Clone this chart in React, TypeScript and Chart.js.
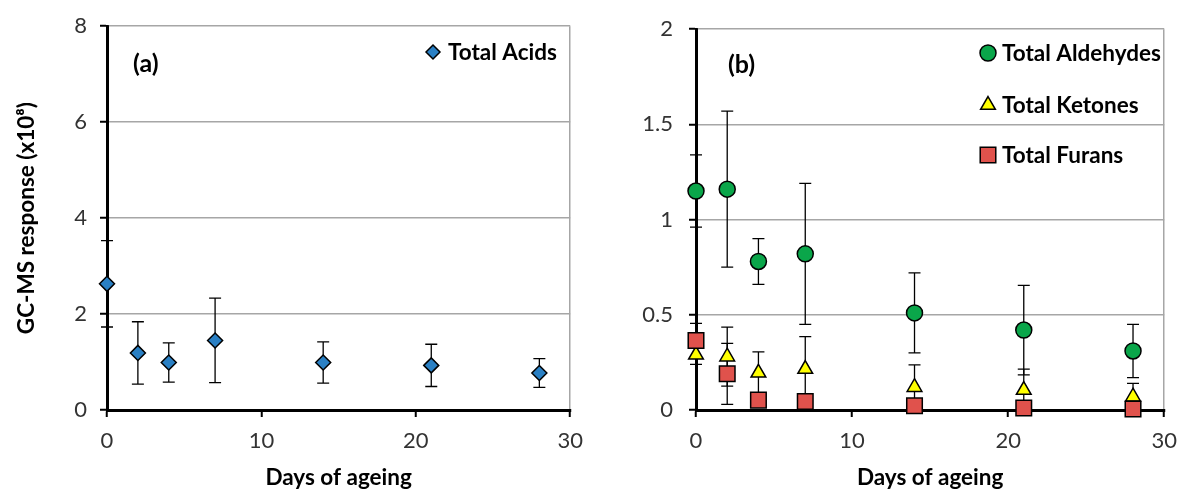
import React, { useEffect, useRef } from 'react';
import { Chart, registerables } from 'chart.js';
Chart.register(...registerables);

// ---------- data ----------
const days = [0, 2, 4, 7, 14, 21, 28];
const acids = [2.63, 1.19, 0.99, 1.45, 0.99, 0.93, 0.77];
const acidsErr = [0.9, 0.65, 0.41, 0.88, 0.43, 0.44, 0.3];
const aldehydes = [1.15, 1.16, 0.78, 0.82, 0.51, 0.42, 0.31];
const aldehydesErr = [0.19, 0.41, 0.12, 0.37, 0.21, 0.235, 0.14];
const ketones = [0.29, 0.28, 0.195, 0.215, 0.12, 0.105, 0.07];
const ketonesErr = [0.05, 0.155, 0.11, 0.17, 0.117, 0.11, 0.07];
const furans = [0.365, 0.19, 0.052, 0.045, 0.022, 0.01, 0.005];
const furansErr = [0.09, 0.16, 0.01, 0.01, 0.01, 0.008, 0.004];
const xTicks = [0, 10, 20, 30];
const yTicksA = [0, 2, 4, 6, 8];
const yTicksB = [0, 0.5, 1, 1.5, 2];

const FONT = 'Lato';
const GRID = '#a6a6a6';
const TICK_COLOR = '#333333';

const pts = (vals: number[]) => vals.map((v, i) => ({ x: days[i], y: v }));

function drawMarker(ctx: CanvasRenderingContext2D, style: string, x: number, y: number, r: number, fill: string) {
  ctx.save();
  ctx.beginPath();
  if (style === 'circle') {
    ctx.arc(x, y, r, 0, Math.PI * 2);
  } else if (style === 'rectRot') {
    ctx.moveTo(x - r, y); ctx.lineTo(x, y - r); ctx.lineTo(x + r, y); ctx.lineTo(x, y + r);
  } else if (style === 'triangle') {
    const a = -Math.PI / 2;
    for (let k = 0; k < 3; k++) {
      const ang = a + (k * 2 * Math.PI) / 3;
      const px = x + Math.cos(ang) * r, py = y + Math.sin(ang) * r;
      if (k === 0) ctx.moveTo(px, py); else ctx.lineTo(px, py);
    }
  } else {
    const s = Math.SQRT1_2 * r;
    ctx.rect(x - s, y - s, 2 * s, 2 * s);
  }
  ctx.closePath();
  ctx.fillStyle = fill;
  ctx.fill();
  ctx.lineWidth = 1.5;
  ctx.strokeStyle = '#000';
  ctx.stroke();
  ctx.restore();
}

const errorBarPlugin = {
  id: 'errorBars',
  beforeDatasetsDraw(chart: any) {
    const ctx = chart.ctx;
    const yScale = chart.scales.y;
    const xScale = chart.scales.x;
    const ca = chart.chartArea;
    ctx.save();
    // axis lines (black, crisp 3px), drawn beneath the markers
    ctx.strokeStyle = '#000';
    ctx.lineWidth = 3;
    ctx.beginPath();
    const x0 = Math.round(xScale.getPixelForValue(0)) + 0.5;
    const y0 = Math.round(yScale.getPixelForValue(0)) + 0.5;
    ctx.moveTo(x0, ca.top - 1);
    ctx.lineTo(x0, y0);
    ctx.lineTo(ca.right + 1, y0);
    ctx.stroke();
    ctx.lineWidth = 1.3;
    chart.data.datasets.forEach((ds: any, i: number) => {
      const errs = ds.errors;
      if (!errs) return;
      const meta = chart.getDatasetMeta(i);
      meta.data.forEach((pt: any, j: number) => {
        const v = ds.data[j].y;
        const e = errs[j];
        const x = pt.x;
        const t = yScale.getPixelForValue(v + e);
        const b = yScale.getPixelForValue(v - e);
        ctx.beginPath();
        ctx.moveTo(x, t); ctx.lineTo(x, b);
        ctx.moveTo(x - 6, t); ctx.lineTo(x + 6, t);
        ctx.moveTo(x - 6, b); ctx.lineTo(x + 6, b);
        ctx.stroke();
      });
    });
    ctx.restore();
  },
};

const decorPlugin = {
  id: 'decor',
  afterDraw(chart: any, _args: any, opts: any) {
    const ctx = chart.ctx;
    ctx.save();
    ctx.fillStyle = '#000';
    ctx.textBaseline = 'middle';
    ctx.textAlign = 'left';
    ctx.font = `bold 25px ${FONT}`;
    ctx.fillText(opts.panel, opts.panelX, opts.panelY);
    (opts.items || []).forEach((it: any) => {
      drawMarker(ctx, it.style, opts.markerX, it.y, it.r, it.color);
      ctx.fillStyle = '#000';
      ctx.font = `bold 22.5px ${FONT}`;
      ctx.fillText(it.label, opts.textX, it.y + 1);
    });
    ctx.restore();
  },
};

function makeOptions(cfg: any) {
  return {
    animation: false,
    responsive: false,
    layout: { padding: { left: 0, right: cfg.padRight, top: 24, bottom: 0 } },
    plugins: {
      legend: { display: false },
      tooltip: { enabled: false },
      decor: cfg.decor,
    },
    scales: {
      x: {
        type: 'linear',
        min: 0,
        max: 30,
        afterBuildTicks: (s: any) => { s.ticks = xTicks.map((v) => ({ value: v })); },
        ticks: { font: { family: FONT, size: 22 }, color: TICK_COLOR, padding: 11 },
        grid: {
          color: (c: any) => (c.tick && c.tick.value === 30 ? GRID : 'rgba(0,0,0,0)'),
          tickColor: '#000',
          tickLength: 7,
          lineWidth: 1.5,
          tickWidth: 2,
        },
        border: { color: '#000', width: 2.5 },
        title: {
          display: true,
          text: 'Days of ageing',
          color: '#000',
          font: { family: FONT, size: 22.5, weight: 'bold' },
          padding: { top: 0, bottom: 0 },
        },
        afterFit: (s: any) => { s.height = 81; },
      },
      y: {
        type: 'linear',
        min: 0,
        max: cfg.yMax,
        afterBuildTicks: (s: any) => { s.ticks = cfg.yTicks.map((v: number) => ({ value: v })); },
        ticks: {
          font: { family: FONT, size: 22 },
          color: TICK_COLOR,
          padding: cfg.yPad,
          callback: (v: any) => String(v),
        },
        grid: {
          color: (c: any) => (c.tick && c.tick.value === 0 ? 'rgba(0,0,0,0)' : GRID),
          tickColor: '#000',
          tickLength: 7,
          lineWidth: 1.5,
          tickWidth: 2,
        },
        border: { color: '#000', width: 2.5 },
        title: cfg.yTitle
          ? {
              display: true,
              text: cfg.yTitle,
              color: '#000',
              font: { family: FONT, size: 22.5, weight: 'bold' },
              padding: { top: 13, bottom: 0 },
            }
          : { display: false },
        afterFit: (s: any) => { s.width = cfg.yWidth; },
      },
    },
  };
}

function ChartCanvas({ config }: { config: any }) {
  const ref = useRef<HTMLCanvasElement>(null);
  useEffect(() => {
    if (!ref.current) return;
    const chart = new Chart(ref.current, config);
    return () => chart.destroy();
  }, [config]);
  return <canvas ref={ref} width={594} height={491} style={{ display: 'block', width: 594, height: 491 }} />;
}

const configA = {
  type: 'scatter',
  data: {
    datasets: [
      {
        label: 'Total Acids',
        data: pts(acids),
        errors: acidsErr,
        pointStyle: 'rectRot',
        pointRadius: 7.5,
        pointBackgroundColor: '#2a80c4',
        pointBorderColor: '#000',
        pointBorderWidth: 1.5,
        clip: false,
      },
    ],
  },
  options: makeOptions({
    padRight: 23,
    yMax: 8,
    yTicks: yTicksA,
    yPad: 13,
    yWidth: 107,
    yTitle: 'GC-MS response (x10⁸)',
    decor: {
      panel: '(a)', panelX: 133, panelY: 64,
      markerX: 433, textX: 448,
      items: [{ label: 'Total Acids', style: 'rectRot', r: 7, color: '#2a80c4', y: 52 }],
    },
  }),
  plugins: [errorBarPlugin, decorPlugin],
};

const configB = {
  type: 'scatter',
  data: {
    datasets: [
      {
        label: 'Total Furans',
        data: pts(furans),
        errors: furansErr,
        pointStyle: 'rect',
        pointRadius: 11,
        pointBackgroundColor: '#e0524c',
        pointBorderColor: '#000',
        pointBorderWidth: 1.5,
        clip: false,
      },
      {
        label: 'Total Ketones',
        data: pts(ketones),
        errors: ketonesErr,
        pointStyle: 'triangle',
        pointRadius: 8.5,
        pointBackgroundColor: '#ffff00',
        pointBorderColor: '#000',
        pointBorderWidth: 1.5,
        clip: false,
      },
      {
        label: 'Total Aldehydes',
        data: pts(aldehydes),
        errors: aldehydesErr,
        pointStyle: 'circle',
        pointRadius: 8,
        pointBackgroundColor: '#0aa64a',
        pointBorderColor: '#000',
        pointBorderWidth: 1.5,
        clip: false,
      },
    ],
  },
  options: makeOptions({
    padRight: 17,
    yMax: 2,
    yTicks: yTicksB,
    yPad: 16,
    yWidth: 102,
    yTitle: null,
    decor: {
      panel: '(b)', panelX: 134, panelY: 65,
      markerX: 394, textX: 408,
      items: [
        { label: 'Total Aldehydes', style: 'circle', r: 8, color: '#0aa64a', y: 53 },
        { label: 'Total Ketones', style: 'triangle', r: 8.5, color: '#ffff00', y: 105 },
        { label: 'Total Furans', style: 'rect', r: 11, color: '#e0524c', y: 155 },
      ],
    },
  }),
  plugins: [errorBarPlugin, decorPlugin],
};

export default function App() {
  return (
    <div style={{ position: 'absolute', left: 0, top: 0, width: 1188, height: 491, background: '#fff' }}>
      <div style={{ position: 'absolute', left: 0, top: 0 }}>
        <ChartCanvas config={configA} />
      </div>
      <div style={{ position: 'absolute', left: 594, top: 0 }}>
        <ChartCanvas config={configB} />
      </div>
    </div>
  );
}
